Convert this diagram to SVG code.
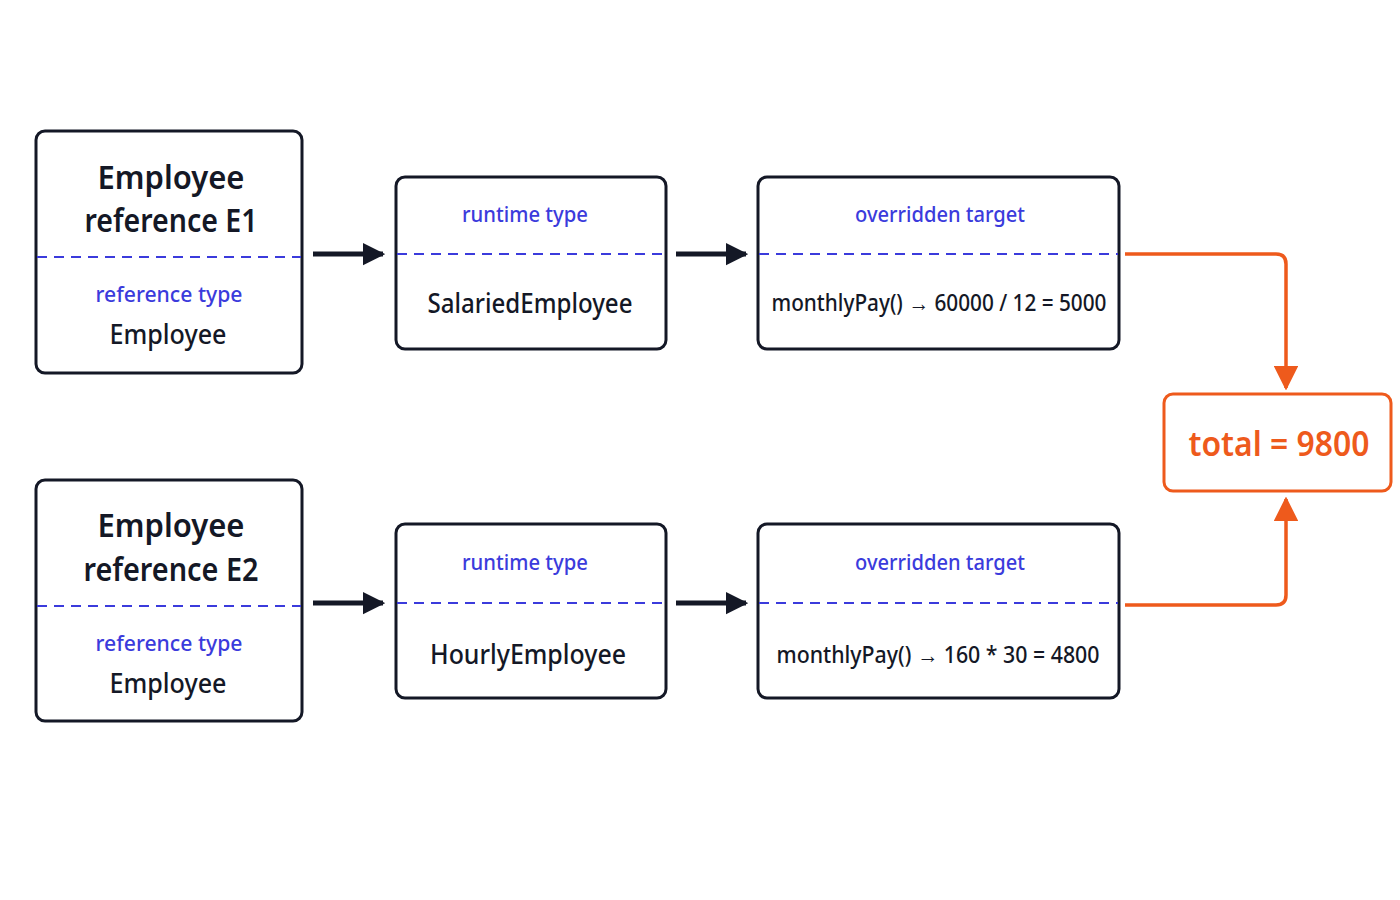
<svg xmlns="http://www.w3.org/2000/svg" width="1400" height="900" viewBox="0 0 1400 900">
<style>
.box{fill:#fff;stroke:#141826;stroke-width:3}
.dash{stroke:#3b3bdc;stroke-width:2;stroke-dasharray:10 7}
text{font-family:"Noto Sans","Liberation Sans",sans-serif;text-anchor:middle}
.big{font-size:33px;font-weight:600;fill:#141826}
.mid{font-size:27px;font-weight:500;fill:#141826}
.lbl{font-size:22px;font-weight:500;fill:#3b3bdc}
.code{font-size:23px;font-weight:500;fill:#141826}
.blk{stroke:#141826;stroke-width:5;fill:none}
.org{stroke:#ee5a1c;stroke-width:3.5;fill:none}
</style>
<defs>
<marker id="ab" viewBox="0 0 10 10" refX="9" refY="5" markerWidth="4.5" markerHeight="5.5" markerUnits="strokeWidth" orient="auto"><path d="M0,0L10,5L0,10z" fill="#141826"/></marker>
<marker id="ao" viewBox="0 0 10 10" refX="9" refY="5" markerWidth="7" markerHeight="7" markerUnits="strokeWidth" orient="auto"><path d="M0,0L10,5L0,10z" fill="#ee5a1c"/></marker>
</defs>
<rect width="1400" height="900" fill="#fff"/>
<g id="e1"><rect class="box" x="36" y="131" width="266" height="242" rx="9"/><line class="dash" x1="37" y1="257" x2="301" y2="257"/>
<text class="big" x="171" y="189" textLength="147" lengthAdjust="spacingAndGlyphs">Employee</text><text class="big" x="171" y="232" textLength="173" lengthAdjust="spacingAndGlyphs">reference E1</text>
<text class="lbl" x="169" y="302" textLength="147" lengthAdjust="spacingAndGlyphs">reference type</text><text class="mid" x="168" y="344" textLength="117" lengthAdjust="spacingAndGlyphs">Employee</text></g>
<g id="rt1"><rect class="box" x="396" y="177" width="270" height="172" rx="9"/><line class="dash" x1="397" y1="254" x2="665" y2="254"/>
<text class="lbl" x="525" y="222" textLength="126" lengthAdjust="spacingAndGlyphs">runtime type</text><text class="mid" x="530" y="313" textLength="205" lengthAdjust="spacingAndGlyphs">SalariedEmployee</text></g>
<g id="ot1"><rect class="box" x="758" y="177" width="361" height="172" rx="9"/><line class="dash" x1="759" y1="254" x2="1118" y2="254"/>
<text class="lbl" x="940" y="222" textLength="170" lengthAdjust="spacingAndGlyphs">overridden target</text><text class="code" x="939" y="311" textLength="335" lengthAdjust="spacingAndGlyphs">monthlyPay() → 60000 / 12 = 5000</text></g>
<g id="e2"><rect class="box" x="36" y="480" width="266" height="241" rx="9"/><line class="dash" x1="37" y1="606" x2="301" y2="606"/>
<text class="big" x="171" y="537" textLength="147" lengthAdjust="spacingAndGlyphs">Employee</text><text class="big" x="171" y="581" textLength="175" lengthAdjust="spacingAndGlyphs">reference E2</text>
<text class="lbl" x="169" y="651" textLength="147" lengthAdjust="spacingAndGlyphs">reference type</text><text class="mid" x="168" y="693" textLength="117" lengthAdjust="spacingAndGlyphs">Employee</text></g>
<g id="rt2"><rect class="box" x="396" y="524" width="270" height="174" rx="9"/><line class="dash" x1="397" y1="603" x2="665" y2="603"/>
<text class="lbl" x="525" y="570" textLength="126" lengthAdjust="spacingAndGlyphs">runtime type</text><text class="mid" x="528" y="664" textLength="196" lengthAdjust="spacingAndGlyphs">HourlyEmployee</text></g>
<g id="ot2"><rect class="box" x="758" y="524" width="361" height="174" rx="9"/><line class="dash" x1="759" y1="603" x2="1118" y2="603"/>
<text class="lbl" x="940" y="570" textLength="170" lengthAdjust="spacingAndGlyphs">overridden target</text><text class="code" x="938" y="663" textLength="323" lengthAdjust="spacingAndGlyphs">monthlyPay() → 160 * 30 = 4800</text></g>
<g id="total"><rect x="1164" y="394" width="227" height="97" rx="9" fill="#fff" stroke="#ee5a1c" stroke-width="3"/>
<text x="1279" y="456" font-size="34" font-weight="600" fill="#ee5a1c" textLength="181" lengthAdjust="spacingAndGlyphs">total = 9800</text></g>
<g id="connectors">
<line class="blk" x1="313" y1="254" x2="383" y2="254" marker-end="url(#ab)"/>
<line class="blk" x1="676" y1="254" x2="746" y2="254" marker-end="url(#ab)"/>
<line class="blk" x1="313" y1="603" x2="383" y2="603" marker-end="url(#ab)"/>
<line class="blk" x1="676" y1="603" x2="746" y2="603" marker-end="url(#ab)"/>
<path class="org" d="M1125,254H1276Q1286,254 1286,264V388" marker-end="url(#ao)"/>
<path class="org" d="M1125,605H1276Q1286,605 1286,595V499" marker-end="url(#ao)"/>
</g>
</svg>
